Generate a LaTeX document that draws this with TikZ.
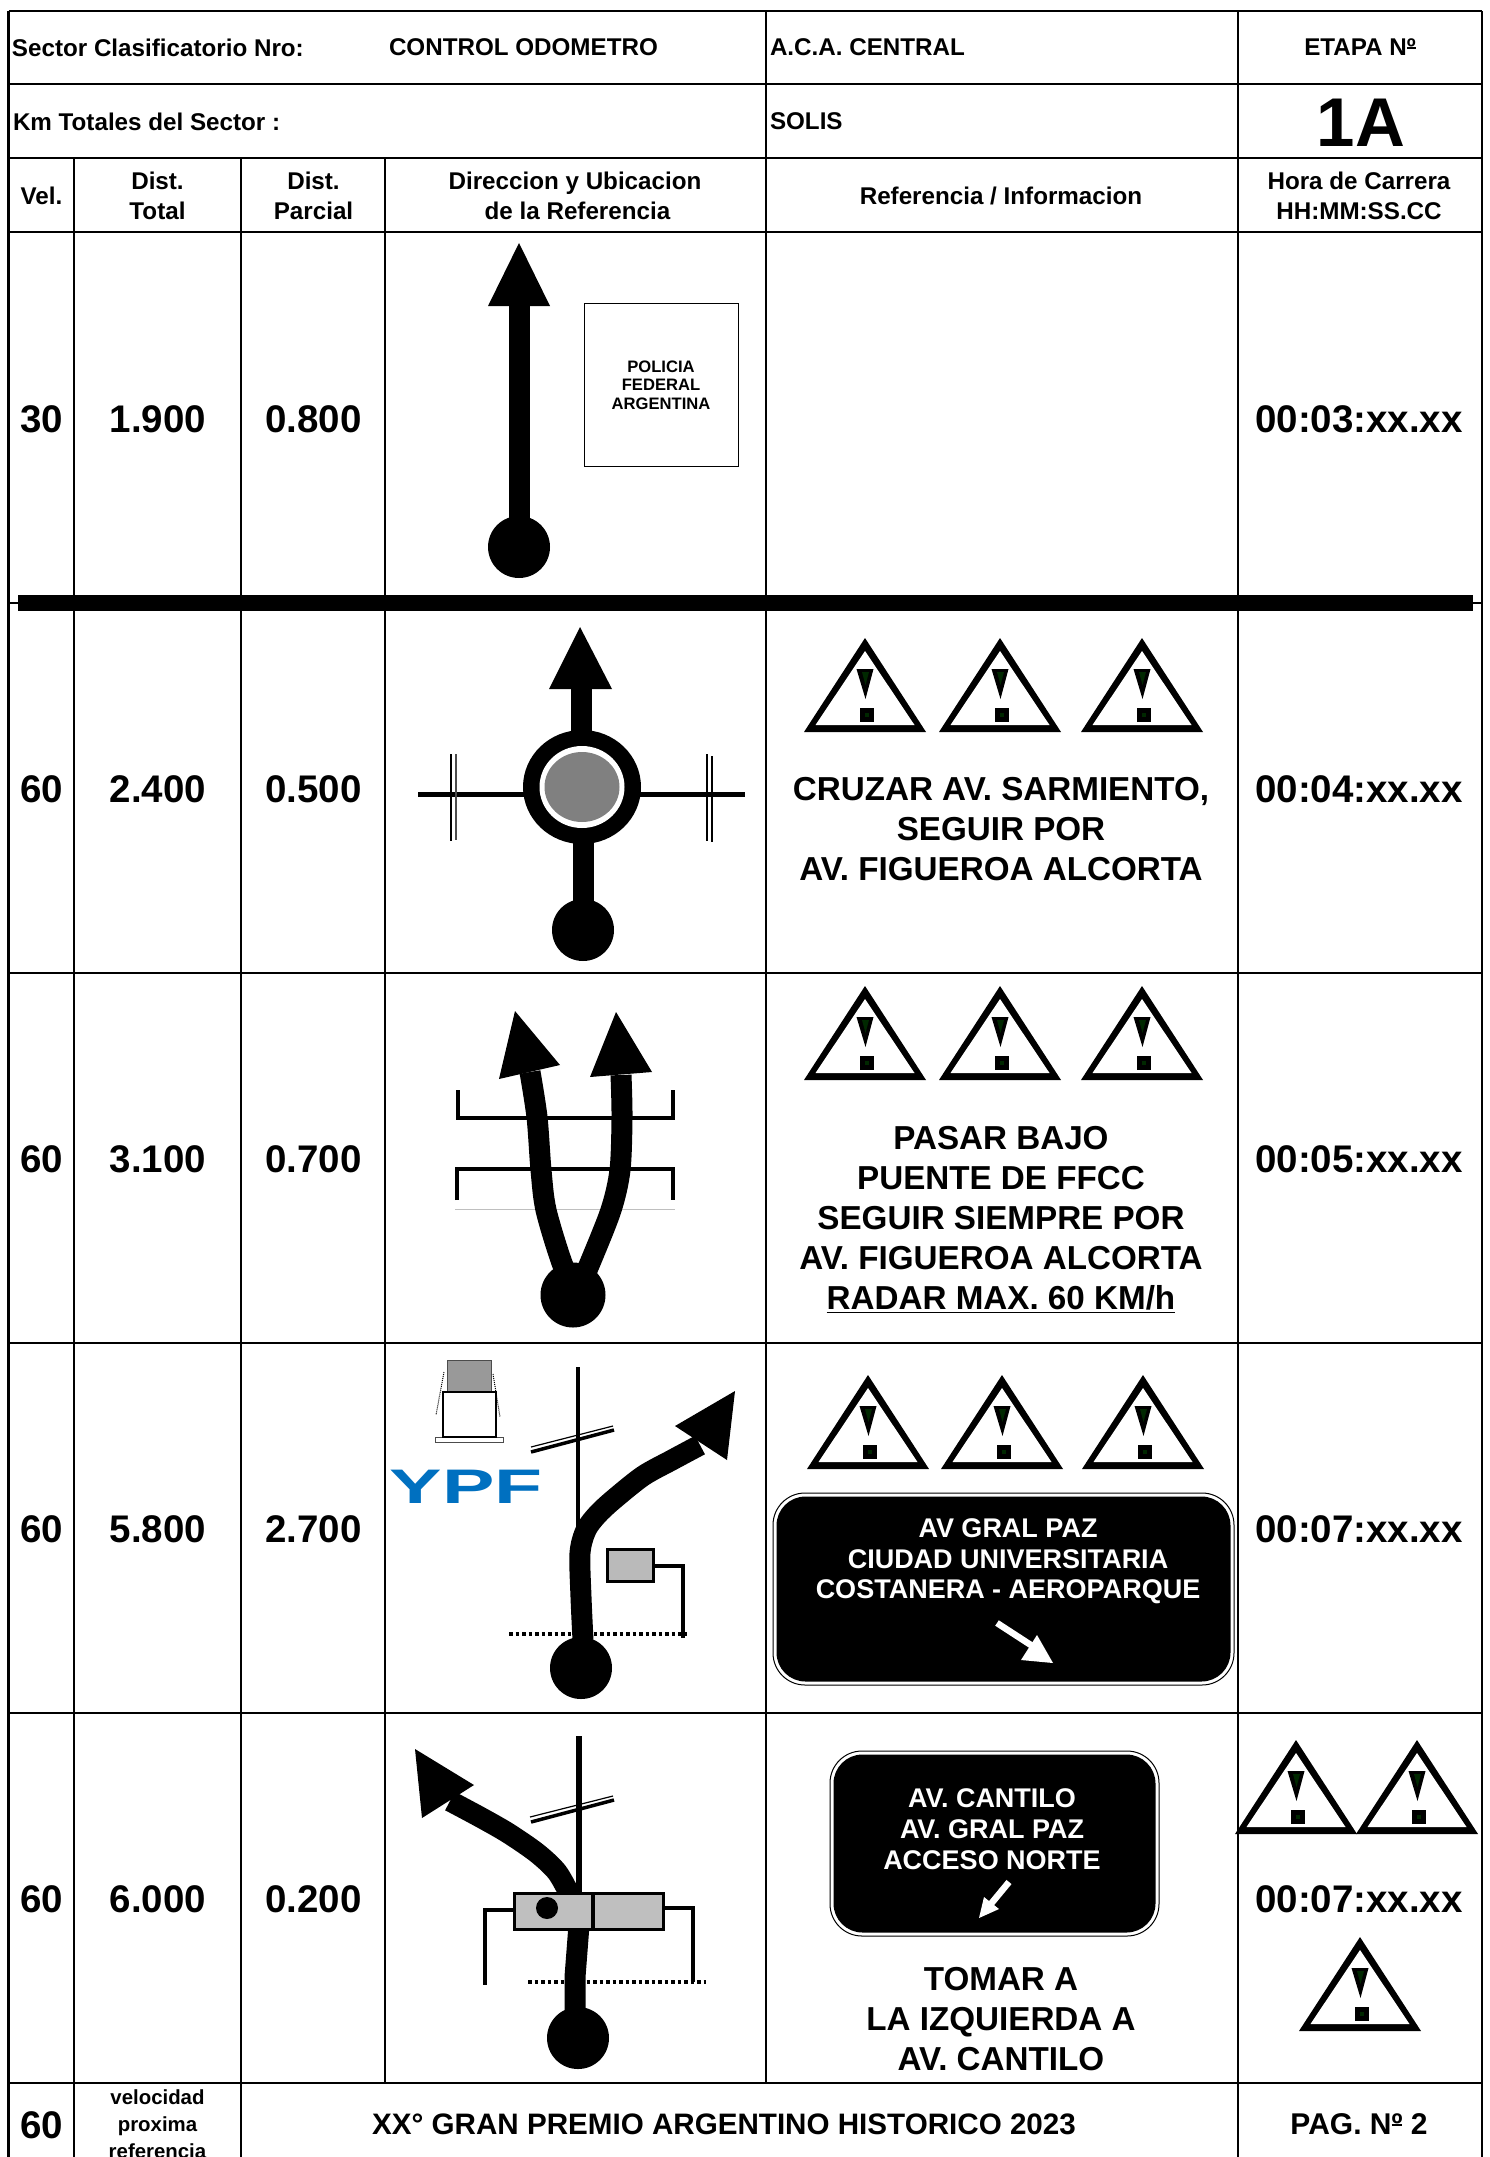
\documentclass[tikz,border=0pt]{standalone}
\usepackage{fontspec}
\setmainfont{Liberation Sans}
\usepackage{xcolor}
\usetikzlibrary{positioning,calc}
\definecolor{ypfblue}{HTML}{0070C0}
\definecolor{darkmark}{HTML}{002800}
\newcommand{\ordmark}{\rlap{\rule[0.3em]{0.36em}{0.07em}}º}
\tikzset{
    every node/.style={inner sep=0pt, outer sep=0pt},
    gridline/.style={line width=2.6pt},
    headtext/.style={font=\fontsize{24.2}{30}\selectfont\bfseries, align=center},
    bigtext/.style={font=\fontsize{38.5}{44}\selectfont\bfseries},
    reftext/.style={font=\fontsize{33.2}{40}\selectfont\bfseries, align=center},
    signtext/.style={font=\fontsize{27}{31}\selectfont\bfseries, align=center, text=white},
    routeline/.style={line width=21pt},
    startdot/.style={circle, fill=black, minimum size=62pt},
    sideline/.style={line width=4pt},
    dotline/.style={line width=3.5pt, dash pattern=on 3.5pt off 3pt},
    warnsign/.pic={
        \fill (0,-94)--(61,0)--(-61,0)--cycle;
        \fill[white] (0,-81)--(49.5,-7)--(-49.5,-7)--cycle;
        \fill (-8.5,-63)--(8.5,-63)--(0.5,-33)--cycle;
        \fill[darkmark] (-3,-60)--(4,-60)--(0.5,-47)--cycle;
        \fill (-5,-24) rectangle (9,-10);
        \fill[darkmark] (0,-19) rectangle (4,-15);
    }
}
\begin{document}
\begin{tikzpicture}[x=1pt,y=-1pt]
    \useasboundingbox (0,0) rectangle (1490,2157);

    % table lines
    \foreach \rowy in {11,84,158,232,603,973,1343,1713,2083}
        \draw[gridline] (8.5,\rowy)--(1482,\rowy);
    \foreach \colx in {8.5,1238,1482}
        \draw[gridline] (\colx,11)--(\colx,2157);
    \draw[gridline] (766,11)--(766,2083);
    \draw[gridline] (385,158)--(385,2083);
    \foreach \colx in {74,241}
        \draw[gridline] (\colx,158)--(\colx,2157);
    \fill (18,595) rectangle (1473,611);        % thick line below the first row

    % header
    \node[headtext, anchor=west] (sector) at (12,47.5) {Sector Clasificatorio Nro:};
    \node[headtext, anchor=west] (control) at (389,47.5) {CONTROL ODOMETRO};
    \node[headtext, anchor=west] (aca) at (770,47.5) {A.C.A. CENTRAL};
    \node[headtext] (etapa) at (1360,47.5) {ETAPA N\ordmark};
    \node[headtext, anchor=west] (kmtotal) at (13,121.5) {Km Totales del Sector :};
    \node[headtext, anchor=west] (solis) at (770,121.5) {SOLIS};
    \node[font=\fontsize{69}{69}\selectfont\bfseries] (etapanum) at (1361,123) {1A};
    \node[headtext] (velhead) at (41.5,195.5) {Vel.};
    \node[headtext] (tothead) at (157.5,195.5) {Dist.\\Total};
    \node[headtext] (parhead) at (313.5,195.5) {Dist.\\Parcial};
    \node[headtext] (dirhead) at (575,195.5) {Direccion y Ubicacion\\\hspace*{5pt}de la Referencia};
    \node[headtext] (refhead) at (1001,195.5) {Referencia / Informacion};
    \node[headtext] (horhead) at (1359,195.5) {Hora de Carrera\\HH:MM:SS.CC};

    % rows
    \foreach \n/\rowy/\vel/\tot/\parc/\hora in {1/419/30/1.900/0.800/00:03:xx.xx,
            2/789/60/2.400/0.500/00:04:xx.xx, 3/1159/60/3.100/0.700/00:05:xx.xx,
            4/1529/60/5.800/2.700/00:07:xx.xx, 5/1899/60/6.000/0.200/00:07:xx.xx}{
        \node[bigtext] (vel-\n) at (41.5,\rowy) {\vel};
        \node[bigtext] (tot-\n) at (158,\rowy) {\tot};
        \node[bigtext] (par-\n) at (313.5,\rowy) {\parc};
        \node[bigtext] (hor-\n) at (1359,\rowy) {\hora};
    }

    % warning triangles
    \foreach \signx/\signy in {865/732, 1000/732, 1142/732, 865/1080, 1000/1080, 1142/1080,
            868/1469, 1002/1469, 1143/1469, 1296/1834, 1417/1834, 1360/2031}
        \pic at (\signx,\signy) {warnsign};

    % first row: straight on
    \node[startdot] (dot-1) at (519,547) {};
    \coordinate (tip-1) at (519,300);
    \draw[routeline] (dot-1.center)--(tip-1);
    \fill (519,243)--(550,306)--(488,306)--cycle;
    \node[draw, line width=1pt, minimum width=154pt, minimum height=163pt] (policebox) at (661,384.5) {};
    \node[font=\fontsize{16.6}{18.5}\selectfont\bfseries, align=center] (police) at (661,385) {POLICIA\\FEDERAL\\ARGENTINA};

    % second row: roundabout
    \node[reftext] (ref-2) at (1001,829) {CRUZAR AV. SARMIENTO,\\SEGUIR POR\\AV. FIGUEROA ALCORTA};
    \draw[line width=5pt] (418,794)--(745,794);
    \foreach \tickx in {451,707}
        \draw[line width=2.5pt] (\tickx,754)--(\tickx,841);
    \draw[line width=1.6pt, black!70] (456,754)--(456,840);
    \draw[line width=2.5pt] (712,756)--(712,842);
    \node[startdot] (dot-2) at (583,930) {};
    \coordinate (tip-2) at (581,680);
    \draw[routeline] (dot-2.center)--(583,787);
    \draw[routeline] (581,787)--(tip-2);
    \fill (580,627)--(612,689)--(549,689)--cycle;
    \fill (582,787) ellipse (59 and 57);
    \fill[white] (582,787) ellipse (42.5 and 41);
    \fill[black!50] (582,787) ellipse (37.5 and 35);

    % third row: under the bridge
    \draw[line width=3.5pt] (458,1090)--(458,1118)--(673,1118)--(673,1090);
    \draw[line width=3.5pt] (457,1200)--(457,1169)--(673,1169)--(673,1200);
    \draw[line width=1pt, black!25] (455,1209)--(675,1209);
    \node[startdot, minimum size=65pt] (dot-3) at (573,1295) {};
    \draw[routeline] plot[smooth] coordinates {(575,1290) (562,1263) (546,1210) (541,1170) (537,1117) (530,1072)};
    \draw[routeline] plot[smooth] coordinates {(578,1290) (590,1263) (611,1210) (620,1170) (622,1117) (621,1075)};
    \fill (515,1011)--(560,1065)--(499,1079)--cycle;
    \fill (616,1012)--(652,1072)--(590,1077)--cycle;
    \node[reftext] (ref-3) at (1001,1219.5) {PASAR BAJO\\PUENTE DE FFCC\\SEGUIR SIEMPRE POR\\AV. FIGUEROA ALCORTA\\\underline{RADAR MAX. 60 KM/h}};

    % fourth row: YPF on the left, take the fork to the right
    \fill[black!40] (447,1360) rectangle (491,1392);
    \draw[line width=1pt, black!70] (447,1360) rectangle (491,1392);
    \draw[line width=1pt, black!70, fill=white] (435,1437) rectangle (503,1442);
    \draw[line width=1.5pt, fill=white] (443,1392) rectangle (496,1437);
    \draw[line width=1pt, densely dotted] (444,1372)--(436,1415);
    \draw[line width=1pt, densely dotted] (493,1374)--(500,1417);
    \node[text=ypfblue, font=\fontsize{48.5}{48.5}\selectfont\bfseries] (ypf) at (466,1487) {\scalebox{1.62}[1]{YPF}};
    \draw[line width=3.5pt] (578,1367)--(578,1530);
    \draw[line width=1.2pt] (531,1447)--(613,1426);
    \draw[line width=3.5pt] (531,1452)--(614,1430);
    \draw[dotline] (509,1634)--(687,1634);
    \node[draw, fill=black!27, line width=3pt, minimum width=46pt, minimum height=32pt] (gate-4) at (630.5,1565.5) {};
    \coordinate (post-4) at (683,1638);
    \draw[sideline] (gate-4.east)-|(post-4);
    \node[startdot] (dot-4) at (581,1668) {};
    \draw[routeline] plot[smooth] coordinates {(583,1640) (581,1597) (580,1553) (586,1530) (597,1515) (613,1500) (643,1476) (672,1460) (700,1445)};
    \fill (735,1391)--(727,1460)--(675,1426)--cycle;
    \node[draw, fill=white, line width=1pt, rounded corners=32pt, minimum width=461pt, minimum height=192pt] (sign-4) at (1003.5,1589) {};
    \node[fill=black, rounded corners=29pt, minimum width=454pt, minimum height=185pt] (signin-4) at (1003.5,1589) {};
    \node[signtext, font=\fontsize{27}{30.5}\selectfont\bfseries] (signtxt-4) at (1008,1561.5) {AV GRAL PAZ\\CIUDAD UNIVERSITARIA\\COSTANERA - AEROPARQUE};
    \draw[white, line width=6.5pt] (997,1623)--(1037,1649);
    \fill[white] (1053,1663)--(1037,1635)--(1021,1660)--cycle;

    % fifth row: gate, then left
    \draw[line width=6pt] (579,1736)--(579,1892);
    \draw[line width=1.2pt] (530,1817)--(613,1796);
    \draw[line width=3.5pt] (531,1822)--(614,1800);
    \draw[dotline] (528,1982)--(706,1982);
    \node[startdot] (dot-5) at (578,2038) {};
    \draw[routeline] (579,1925)--(575,1977)--(575,2010);
    \draw[routeline] plot[smooth] coordinates {(570,1895) (557,1872) (537,1853) (508,1833) (480,1817) (450,1801)};
    \fill (415,1749)--(474,1785)--(422,1818)--cycle;
    \node[draw, fill=black!25, line width=3pt, minimum width=149pt, minimum height=36pt] (gate-5) at (588.5,1911) {};
    \draw[line width=3.5pt] (593,1892)--(593,1930);
    \node[circle, fill=black, minimum size=22pt] (gatedot) at (547,1908) {};
    \coordinate (post-5a) at (485,1985);
    \coordinate (post-5b) at (693,1982);
    \draw[sideline] (513,1910)-|(post-5a);
    \draw[sideline] (664,1908)-|(post-5b);
    \node[draw, fill=white, line width=1pt, rounded corners=32pt, minimum width=329pt, minimum height=185pt] (sign-5) at (994.5,1843.5) {};
    \node[fill=black, rounded corners=29pt, minimum width=322pt, minimum height=178pt] (signin-5) at (994.5,1843.5) {};
    \node[signtext] (signtxt-5) at (992,1829.5) {AV. CANTILO\\AV. GRAL PAZ\\ACCESO NORTE};
    \draw[white, line width=6.5pt] (1009,1882)--(990,1905);
    \fill[white] (979,1918)--(984,1897)--(999,1909)--cycle;
    \node[reftext] (ref-5) at (1001,2019) {TOMAR A\\LA IZQUIERDA A\\AV. CANTILO};

    % last line
    \node[bigtext] (vel-last) at (41.5,2125) {60};
    \node[font=\fontsize{20.4}{27}\selectfont\bfseries, align=center] (velnote) at (157.5,2124) {velocidad\\proxima\\referencia};
    \node[font=\fontsize{29.6}{30}\selectfont\bfseries] (title) at (724,2124.5) {XX° GRAN PREMIO ARGENTINO HISTORICO 2023};
    \node[font=\fontsize{30}{30}\selectfont\bfseries] (page) at (1359,2124.5) {PAG. N\ordmark\ 2};
\end{tikzpicture}
\end{document}
